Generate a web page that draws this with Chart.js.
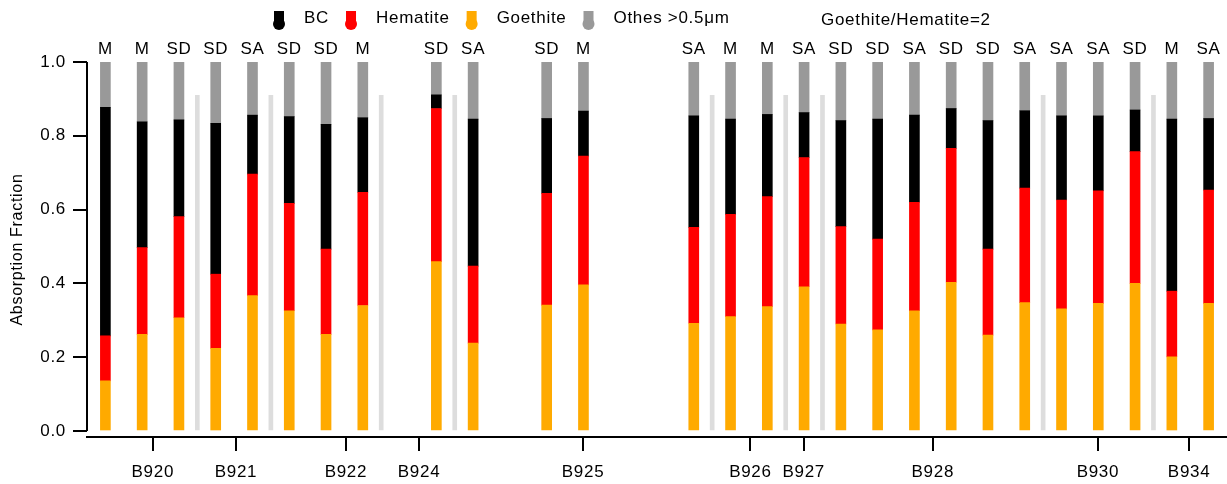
<!DOCTYPE html>
<html>
<head>
<meta charset="utf-8">
<script src="https://cdn.jsdelivr.net/npm/chart.js@4.4.1/dist/chart.umd.min.js"></script>
<style>
  html, body { margin: 0; padding: 0; background: #fff; }
  #wrap { width: 1227px; height: 484px; position: relative; }
</style>
</head>
<body>
<div id="wrap"><canvas id="absChart"></canvas></div>
<script>
// === DATA ===
// slot of every bar on the x axis (empty slots = gaps)
const barSlots = [0, 1, 2, 3, 4, 5, 6, 7, 9, 10, 12, 13, 16, 17, 18, 19, 20, 21, 22, 23, 24, 25, 26, 27, 28, 29, 30];
const sampleTypes = ['M', 'M', 'SD', 'SD', 'SA', 'SD', 'SD', 'M', 'SD', 'SA', 'SD', 'M', 'SA', 'M', 'M', 'SA', 'SD', 'SD', 'SA', 'SD', 'SD', 'SA', 'SA', 'SA', 'SD', 'M', 'SA'];

const goethite = [0.136, 0.262, 0.307, 0.224, 0.367, 0.326, 0.262, 0.340, 0.459, 0.238, 0.341, 0.396, 0.292, 0.310, 0.337, 0.391, 0.290, 0.274, 0.326, 0.403, 0.260, 0.348, 0.331, 0.346, 0.400, 0.201, 0.346];
const hematite = [0.122, 0.235, 0.274, 0.201, 0.329, 0.291, 0.231, 0.307, 0.415, 0.209, 0.303, 0.349, 0.260, 0.277, 0.298, 0.350, 0.264, 0.246, 0.294, 0.363, 0.233, 0.310, 0.295, 0.305, 0.357, 0.178, 0.307];
const bc       = [0.619, 0.341, 0.262, 0.409, 0.160, 0.235, 0.338, 0.202, 0.037, 0.398, 0.203, 0.122, 0.302, 0.258, 0.223, 0.122, 0.287, 0.325, 0.236, 0.108, 0.348, 0.210, 0.228, 0.203, 0.113, 0.466, 0.194];
const others   = [0.123, 0.162, 0.157, 0.166, 0.144, 0.148, 0.169, 0.151, 0.089, 0.155, 0.153, 0.133, 0.146, 0.155, 0.142, 0.137, 0.159, 0.155, 0.144, 0.126, 0.159, 0.132, 0.146, 0.146, 0.130, 0.155, 0.153];

// light grey dividers between flights
const separatorSlots  = [2.5, 4.5, 7.5, 9.5, 16.5, 18.5, 19.5, 25.5, 28.5];
const separatorValues = [0.91, 0.91, 0.91, 0.91, 0.91, 0.91, 0.91, 0.91, 0.91];

const flightNames = ['B920', 'B921', 'B922', 'B924', 'B925', 'B926', 'B927', 'B928', 'B930', 'B934'];
const flightSlots = [1.29, 3.55, 6.54, 8.53, 12.99, 17.54, 18.99, 22.50, 26.99, 29.47];

const yTicks = [0, 0.2, 0.4, 0.6, 0.8, 1.0];
const ratioNote = 'Goethite/Hematite=2';

const FONT = "'Liberation Sans', Arial, sans-serif";
const SPACING = '0.7px';

const pts = (vals) => vals.map((v, i) => ({ x: barSlots[i], y: v }));

// legend order differs from stacking order
const legendOrder = [2, 1, 0, 3];

// === доп. отрисовка: подписи, легенда, ось Y ===
const decorPlugin = {
    id: 'decor',
    beforeLayout(chart) { chart.ctx.letterSpacing = SPACING; },
    beforeDraw(chart) { chart.ctx.letterSpacing = SPACING; },
    afterDraw(chart) {
        const ctx = chart.ctx;
        const xs = chart.scales.x;
        const ys = chart.scales.y;
        ctx.save();
        ctx.letterSpacing = SPACING;

        // y axis line (stops at 0, x axis sits a bit lower)
        ctx.strokeStyle = '#000';
        ctx.lineWidth = 2;
        ctx.beginPath();
        ctx.moveTo(chart.chartArea.left, ys.getPixelForValue(1));
        ctx.lineTo(chart.chartArea.left, ys.getPixelForValue(0));
        ctx.stroke();

        // sample type above each bar
        ctx.fillStyle = '#000';
        ctx.font = '17px ' + FONT;
        ctx.textAlign = 'center';
        ctx.textBaseline = 'middle';
        barSlots.forEach((s, i) => {
            ctx.fillText(sampleTypes[i], xs.getPixelForValue(s), 49);
        });

        // legend
        ctx.textAlign = 'left';
        let lx = 279;
        legendOrder.forEach(di => {
            const ds = chart.data.datasets[di];
            ctx.fillStyle = ds.backgroundColor;
            ctx.fillRect(lx - 5, 11, 10, 13);
            ctx.beginPath();
            ctx.arc(lx, 24, 6, 0, Math.PI * 2);
            ctx.fill();
            ctx.fillStyle = '#000';
            ctx.fillText(ds.label, lx + 25, 18);
            lx = lx + 25 + ctx.measureText(ds.label).width + 22;
        });

        ctx.fillText(ratioNote, 821, 20);
        ctx.restore();
    }
};

const ctx = document.getElementById('absChart');

// @ts-ignore
new Chart(ctx, {
    type: 'bar',
    data: {
        datasets: [
            { label: 'Goethite', data: pts(goethite), backgroundColor: '#ffaa00', barThickness: 10 },
            { label: 'Hematite', data: pts(hematite), backgroundColor: '#ff0000', barThickness: 10 },
            { label: 'BC', data: pts(bc), backgroundColor: '#000000', barThickness: 10 },
            { label: 'Othes >0.5μm', data: pts(others), backgroundColor: '#999999', barThickness: 10 },
            {
                label: 'sep',
                data: separatorSlots.map((s, i) => ({ x: s, y: separatorValues[i] })),
                backgroundColor: '#dddddd',
                barThickness: 4,
                grouped: false
            }
        ]
    },
    options: {
        responsive: true,
        maintainAspectRatio: false,
        animation: false,
        layout: { padding: { top: 62, left: 0, right: 0, bottom: 0 } },
        plugins: { legend: { display: false }, tooltip: { enabled: false } },
        scales: {
            x: {
                type: 'linear',
                stacked: true,
                offset: false,
                min: -0.5,
                max: 30.5,
                afterBuildTicks: (scale) => { scale.ticks = flightSlots.map(v => ({ value: v })); },
                afterFit: (scale) => { scale.height = 47; },
                ticks: {
                    autoSkip: false,
                    maxRotation: 0,
                    color: '#000',
                    padding: 11,
                    font: { family: FONT, size: 17 },
                    callback: (v, i) => flightNames[i]
                },
                grid: { offset: false, drawOnChartArea: false, tickLength: 14, tickColor: '#000', lineWidth: 2 },
                border: { display: true, color: '#000', width: 2 }
            },
            y: {
                stacked: true,
                min: -6 / 369,
                max: 1,
                afterBuildTicks: (scale) => { scale.ticks = yTicks.map(v => ({ value: v })); },
                afterFit: (scale) => { scale.width = 87; },
                ticks: {
                    color: '#000',
                    padding: 7,
                    font: { family: FONT, size: 17 },
                    callback: (v) => Number(v).toFixed(1)
                },
                grid: { drawOnChartArea: false, tickLength: 14, tickColor: '#000', lineWidth: 2 },
                border: { display: false },
                title: {
                    display: true,
                    text: 'Absorption Fraction',
                    color: '#000',
                    font: { family: FONT, size: 16 },
                    padding: { top: 8, bottom: 0 }
                }
            }
        }
    },
    plugins: [decorPlugin]
});
</script>
</body>
</html>
